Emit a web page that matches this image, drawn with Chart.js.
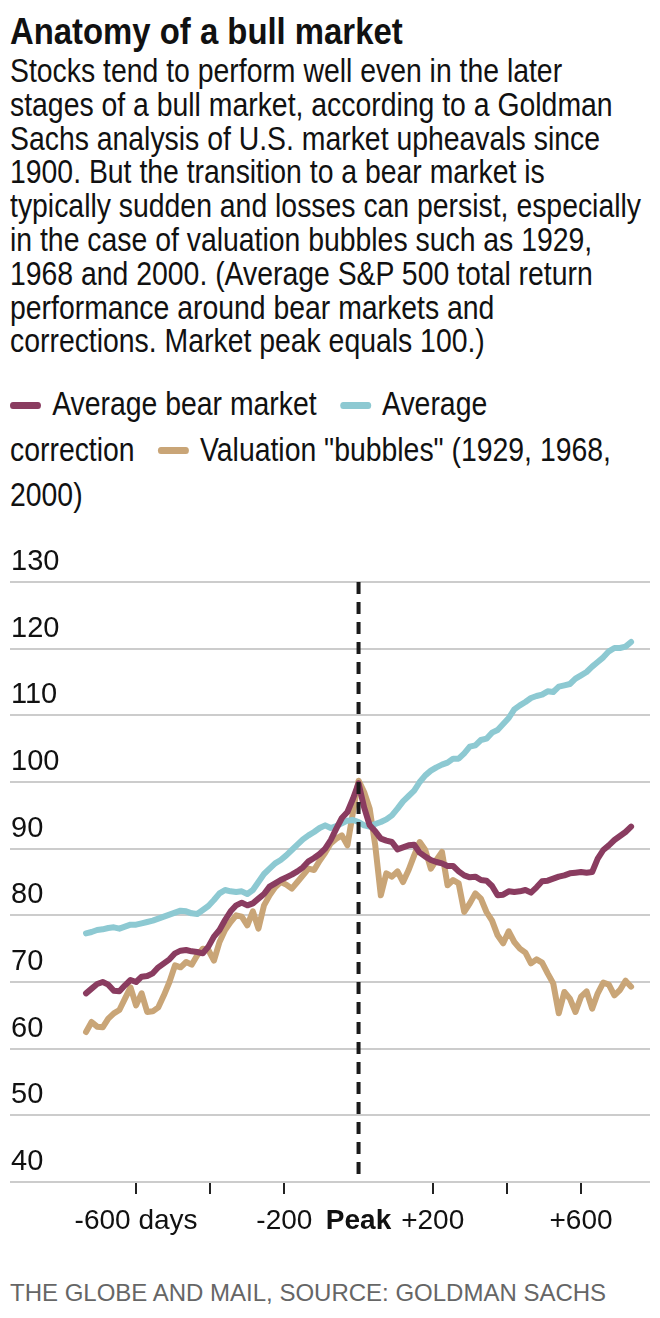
<!DOCTYPE html>
<html>
<head>
<meta charset="utf-8">
<script src="https://cdn.jsdelivr.net/npm/chart.js@4.4.1/dist/chart.umd.min.js"></script>
<style>
  html, body { margin: 0; padding: 0; background: #fff; }
  body { width: 660px; height: 1318px; position: relative; overflow: hidden;
         font-family: "Liberation Sans", Arial, sans-serif; color: #111; }
  .narrow { transform-origin: 0 0; white-space: nowrap; }
  #title { position: absolute; left: 10px; top: 10px; font-size: 36px; line-height: 44px; font-weight: bold; transform: scaleX(0.913); }
  #sub { position: absolute; left: 10px; top: 54px; font-size: 33px; line-height: 33.8px; transform: scaleX(0.86); }
  #legend { position: absolute; left: 10px; top: 381px; font-size: 33px; line-height: 45.5px; transform: scaleX(0.86); white-space: pre; }
  #legend .item { margin-right: 27px; }
  #legend .sw { display: inline-block; width: 36px; height: 7px; border-radius: 4px; vertical-align: middle; margin-right: 13px; position: relative; top: -1px; }
  #chartbox { position: absolute; left: 0; top: 530px; width: 660px; height: 730px; }
  #foot { position: absolute; left: 10px; top: 1278px; font-size: 24px; line-height: 30px; color: #666; white-space: nowrap; }
</style>
</head>
<body>
<div id="title" class="narrow">Anatomy of a bull market</div>
<div id="sub" class="narrow">Stocks tend to perform well even in the later<br>stages of a bull market, according to a Goldman<br>Sachs analysis of U.S. market upheavals since<br>1900. But the transition to a bear market is<br>typically sudden and losses can persist, especially<br>in the case of valuation bubbles such as 1929,<br>1968 and 2000. (Average S&amp;P 500 total return<br>performance around bear markets and<br>corrections. Market peak equals 100.)</div>
<div id="legend" class="narrow"></div>
<div id="chartbox"><canvas id="c" width="660" height="730"></canvas></div>
<div id="foot">THE GLOBE AND MAIL, SOURCE: GOLDMAN SACHS</div>
<script>
// ---- data (days relative to market peak) ----
const DAYS = [-735,-720,-705,-690,-675,-660,-645,-630,-615,-600,-585,-570,-555,-540,-525,-510,-495,-480,-465,-450,-435,-420,-405,-390,-375,-360,-345,-330,-315,-300,-285,-270,-255,-240,-225,-210,-195,-180,-165,-150,-135,-120,-105,-90,-75,-60,-45,-30,-15,0,15,30,45,60,75,90,105,120,135,150,165,180,195,210,225,240,255,270,285,300,315,330,345,360,375,390,405,420,435,450,465,480,495,510,525,540,555,570,585,600,615,630,645,660,675,690,705,720,735];

const BEAR = [68.3,69.0,69.7,70.0,69.6,68.7,68.6,69.5,70.3,70.0,
  70.8,70.9,71.3,72.2,72.8,73.4,74.3,74.7,74.8,74.6,
  74.5,74.3,75.3,76.8,77.8,79.3,80.6,81.5,81.9,81.5,
  81.8,82.5,83.2,84.3,84.8,85.3,85.7,86.1,86.6,87.2,
  88.1,88.6,89.2,90.0,91.3,93.0,94.6,95.5,97.5,
  99.8,
  96.2,93.5,92.6,91.5,91.2,91.0,89.9,90.2,90.5,90.6,
  89.4,88.8,88.3,88.0,87.8,87.4,87.4,86.6,86.0,85.7,
  85.8,85.3,85.2,84.4,83.0,83.1,83.6,83.5,83.6,83.8,
  83.4,84.2,85.1,85.2,85.5,85.8,86.0,86.3,86.4,86.5,
  86.4,86.5,88.5,89.8,90.5,91.3,91.9,92.5,93.3];

const CORRECTION = [77.3,77.5,77.8,77.9,78.1,78.2,78.0,78.3,78.6,78.6,
  78.8,79.0,79.2,79.5,79.8,80.1,80.4,80.7,80.6,80.3,
  80.2,80.8,81.4,82.3,83.3,83.8,83.6,83.5,83.6,83.2,
  83.8,85.0,86.2,87.0,87.8,88.3,89.0,89.8,90.6,91.4,
  92.0,92.5,93.1,93.5,93.1,93.4,93.8,94.2,94.3,
  94.0,
  93.5,93.3,93.7,94.0,94.4,95.0,96.0,97.1,97.9,98.7,
  100.0,101.0,101.7,102.2,102.6,102.9,103.5,103.5,104.3,105.3,
  105.5,106.3,106.5,107.4,107.8,108.7,109.6,110.9,111.5,112.0,
  112.6,112.9,113.1,113.6,113.5,114.3,114.5,114.7,115.5,116.0,
  116.5,117.3,118.0,118.7,119.6,120.1,120.1,120.3,121.0];

const BUBBLES = [62.5,64.0,63.3,63.2,64.5,65.3,65.8,67.5,69.2,66.5,
  68.3,65.5,65.6,66.2,68.0,70.0,72.5,72.2,73.0,72.6,
  74.0,75.0,74.8,73.2,76.0,77.8,79.0,80.0,79.8,78.5,
  80.6,78.0,81.5,83.0,84.2,85.0,84.6,84.0,85.0,86.0,
  87.0,86.8,88.2,89.4,90.8,91.5,92.0,90.5,95.5,
  100.2,
  98.5,96.0,90.5,83.0,86.3,85.8,86.6,85.0,86.8,89.0,
  91.0,89.8,87.0,88.3,89.5,84.5,85.3,84.8,80.5,81.8,
  83.3,82.5,80.5,79.2,77.0,75.8,77.6,76.0,75.0,74.4,
  72.8,73.4,72.9,71.3,69.8,65.3,68.5,67.5,65.5,67.8,
  68.6,66.0,68.3,69.9,69.6,68.0,68.8,70.2,69.3];

const SERIES_LABELS = ['Average bear market', 'Average correction', 'Valuation "bubbles" (1929, 1968, 2000)'];
// the legend wraps its text at these points
const LEGEND_TEXT = ['Average bear market', 'Average\ncorrection', 'Valuation "bubbles" (1929, 1968,\n2000)'];
const SERIES_COLORS = ['#8a3c60', '#8dc9d2', '#c9a577'];

const Y_MIN = 40, Y_MAX = 130, Y_STEP = 10;
const X_MIN = -940, X_MAX = 786;
const X_TICK_VALUES = [-600, -400, -200, 0, 200, 400, 600];
const X_TICK_LABELS = ['-600 days', '', '-200', 'Peak', '+200', '', '+600'];
const PEAK_DAY = 0;

const FONT = '"Liberation Sans", Arial, sans-serif';

// ---- legend (HTML) ----
const legend = document.getElementById('legend');
LEGEND_TEXT.forEach((lab, i) => {
  const item = document.createElement('span');
  item.className = 'item';
  const sw = document.createElement('span');
  sw.className = 'sw';
  sw.style.background = SERIES_COLORS[i];
  item.appendChild(sw);
  item.appendChild(document.createTextNode(lab));
  legend.appendChild(item);
});

// ---- chart ----
const toPts = arr => DAYS.map((d, i) => ({ x: d, y: arr[i] }));
const SERIES = [BEAR, CORRECTION, BUBBLES];

const peakLine = {
  id: 'peakLine',
  afterDatasetsDraw(chart) {
    const { ctx, chartArea, scales } = chart;
    const x = scales.x.getPixelForValue(PEAK_DAY);
    ctx.save();
    ctx.strokeStyle = '#1a1a1a';
    ctx.lineWidth = 4;
    ctx.setLineDash([12, 8]);
    ctx.beginPath();
    ctx.moveTo(x, chartArea.top);
    ctx.lineTo(x, chartArea.bottom);
    ctx.stroke();
    ctx.restore();
  }
};

Chart.defaults.font.family = FONT;
Chart.defaults.color = '#111';

new Chart(document.getElementById('c'), {
  type: 'line',
  data: {
    datasets: SERIES.map((arr, i) => ({
      label: SERIES_LABELS[i],
      data: toPts(arr),
      borderColor: SERIES_COLORS[i],
      backgroundColor: SERIES_COLORS[i],
      borderWidth: 6,
      pointRadius: 0,
      tension: 0,
      borderCapStyle: 'round',
      borderJoinStyle: 'round',
      order: i
    }))
  },
  options: {
    responsive: false,
    animation: false,
    layout: { padding: { left: 10, right: 10, top: 52, bottom: 0 } },
    plugins: { legend: { display: false }, tooltip: { enabled: false } },
    scales: {
      x: {
        type: 'linear',
        min: X_MIN, max: X_MAX,
        afterBuildTicks: s => { s.ticks = X_TICK_VALUES.map(v => ({ value: v })); },
        afterFit: s => { s.height = 78; },
        border: { display: false },
        grid: {
          drawOnChartArea: false,
          drawTicks: true,
          tickLength: 12,
          lineWidth: 2,
          color: ctx => (ctx.tick && ctx.tick.value === PEAK_DAY) ? 'rgba(0,0,0,0)' : '#222'
        },
        ticks: {
          autoSkip: false,
          maxRotation: 0,
          padding: 10,
          color: '#111',
          font: ctx => ({ family: FONT, size: 28, lineHeight: 1.2,
                          weight: (ctx.tick && ctx.tick.value === PEAK_DAY) ? 'bold' : 'normal' }),
          callback: (v) => { const k = X_TICK_VALUES.indexOf(v); return k >= 0 ? X_TICK_LABELS[k] : ''; }
        }
      },
      y: {
        min: Y_MIN, max: Y_MAX,
        afterFit: s => { s.width = 0; },
        border: { display: false },
        grid: { color: '#cccccc', lineWidth: 2, drawTicks: false },
        ticks: {
          stepSize: Y_STEP,
          mirror: true,
          padding: 1,
          labelOffset: -20,
          color: '#111',
          font: { family: FONT, size: 29 },
          callback: v => String(v)
        }
      }
    }
  },
  plugins: [peakLine]
});
</script>
</body>
</html>
